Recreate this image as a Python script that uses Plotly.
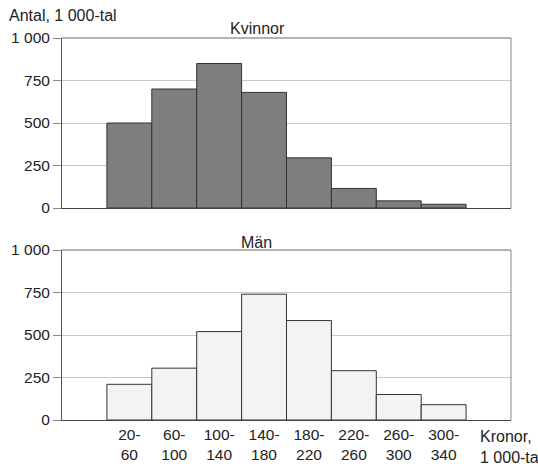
import plotly.graph_objects as go

categories = ["20-<br>60", "60-<br>100", "100-<br>140", "140-<br>180", "180-<br>220",
              "220-<br>260", "260-<br>300", "300-<br>340"]
kvinnor = [500, 700, 850, 680, 295, 115, 42, 22]
man = [210, 305, 520, 740, 585, 290, 150, 90]
y_ticks = [0, 250, 500, 750, 1000]
y_ticktext = ["0", "250", "500", "750", "1 000"]

xpos = list(range(1, len(categories) + 1))
FONT = "Liberation Sans, Arial, sans-serif"

fig = go.Figure()
fig.add_trace(go.Bar(x=xpos, y=kvinnor, width=1, marker=dict(color="#7e7e7e", line=dict(color="#333333", width=1)),
                     xaxis="x", yaxis="y", showlegend=False))
fig.add_trace(go.Bar(x=xpos, y=man, width=1, marker=dict(color="#f3f3f3", line=dict(color="#333333", width=1)),
                     xaxis="x2", yaxis="y2", showlegend=False))

common_x = dict(range=[-0.5, 9.5], showgrid=False, zeroline=False, showline=True, linecolor="#444444",
                linewidth=1, mirror=False, ticks="", fixedrange=True, automargin=False)
common_y = dict(range=[0, 1000], tickvals=y_ticks, ticktext=y_ticktext, showgrid=True, gridcolor="#c8c8c8",
                gridwidth=1, zeroline=False, showline=True, linecolor="#555555", linewidth=1,
                ticks="outside", ticklen=8, tickcolor="#888888", tickfont=dict(size=15.5, color="#222"),
                automargin=False, fixedrange=True)

top_lo = (420 - 208) / 382
bot_hi = (420 - 250) / 382

fig.update_layout(
    width=538, height=467,
    margin=dict(l=62, r=27, t=38, b=47),
    paper_bgcolor="white", plot_bgcolor="white",
    font=dict(family=FONT, size=15.5, color="#222"),
    bargap=0,
    xaxis=dict(**common_x, domain=[0, 1], anchor="y", showticklabels=False),
    yaxis=dict(**common_y, domain=[top_lo, 1], anchor="x"),
    xaxis2=dict(**common_x, domain=[0, 1], anchor="y2", tickvals=xpos, ticktext=categories,
                tickfont=dict(size=15.5, color="#222")),
    yaxis2=dict(**common_y, domain=[0, bot_hi], anchor="x2"),
)

# frame lines top/right
for yr in ["y domain", "y2 domain"]:
    fig.add_shape(type="line", xref="x domain" if yr == "y domain" else "x2 domain", yref=yr,
                  x0=1, x1=1, y0=0, y1=1, line=dict(color="#888888", width=1))
    fig.add_shape(type="line", xref="x domain" if yr == "y domain" else "x2 domain", yref=yr,
                  x0=0, x1=1, y0=1, y1=1, line=dict(color="#666666", width=1))

ann = dict(showarrow=False, font=dict(family=FONT, size=16, color="#222"))
fig.add_annotation(text="Antal, 1 000-tal", xref="paper", yref="paper", x=-55 / 449, y=(420 - 15) / 382,
                   xanchor="left", yanchor="middle", **ann)
fig.add_annotation(text="Kvinnor", xref="paper", yref="paper", x=(257 - 62) / 449, y=(420 - 28) / 382,
                   xanchor="center", yanchor="middle", **ann)
fig.add_annotation(text="Män", xref="paper", yref="paper", x=(256 - 62) / 449, y=(420 - 242) / 382,
                   xanchor="center", yanchor="middle", **ann)
fig.add_annotation(text="Kronor,<br>1 000-tal", xref="paper", yref="paper", x=(478 - 62) / 449,
                   y=(420 - 447) / 382, xanchor="left", yanchor="middle", align="left", **ann)

fig.write_html("out.html", config={"displayModeBar": False, "staticPlot": True},
               post_script="document.body.style.margin='0';document.body.style.overflow='hidden';")
